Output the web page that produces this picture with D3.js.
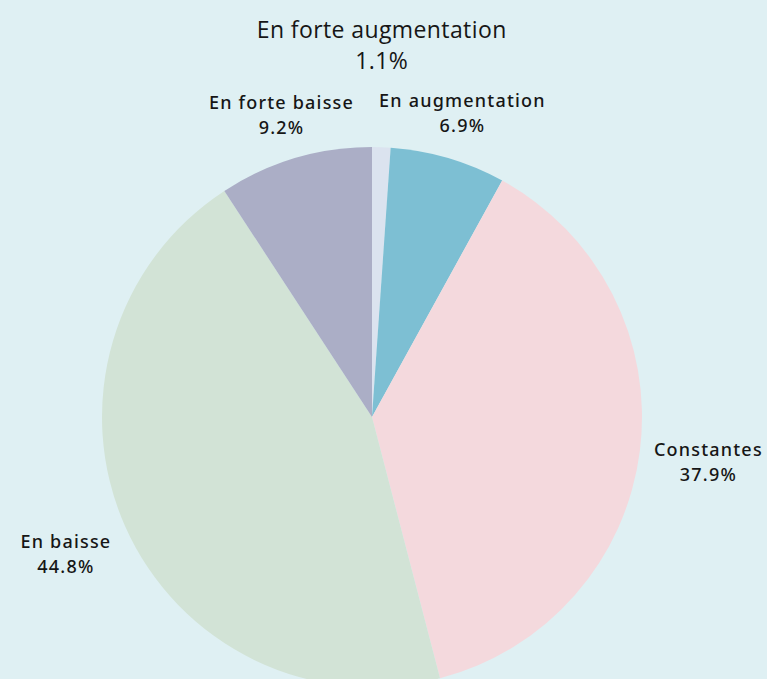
<!DOCTYPE html>
<html><head><meta charset="utf-8">
<script src="https://cdn.jsdelivr.net/npm/d3@7"></script>
<style>
html,body{margin:0;padding:0;background:#dff0f3;}
svg{display:block;}
</style></head>
<body>
<svg id="chart" width="767" height="679"></svg>
<script>
const categories = ["En forte augmentation", "En augmentation", "Constantes", "En baisse", "En forte baisse"];
const values = [1.1, 6.9, 37.9, 44.8, 9.2];
const labels = ["1.1%", "6.9%", "37.9%", "44.8%", "9.2%"];
const colors = ["#dbe3ef", "#7dbfd3", "#f4d9dd", "#d2e3d6", "#abaec6"];

const W = 767, H = 679;
const cx = 372, cy = 417, R = 270, RL = 338;
const svg = d3.select("#chart");
svg.append("rect").attr("width", W).attr("height", H).attr("fill", "#dff0f3");

const data = categories.map((c, i) => ({cat: c, value: values[i], label: labels[i], color: colors[i]}));
const pie = d3.pie().value(d => d.value).sort(null);
const arcs = pie(data);
const arc = d3.arc().innerRadius(0).outerRadius(R);
const labelArc = d3.arc().innerRadius(RL).outerRadius(RL);

const g = svg.append("g").attr("transform", `translate(${cx},${cy})`);
g.selectAll("path").data(arcs).enter().append("path")
  .attr("d", arc).attr("fill", d => d.data.color);

// label nudges to avoid overlap near the top
const nudge = [[-2, -34], [-5, 20], [1, 3], [3, 0], [6, 22]];
const lab = g.selectAll("g.lab").data(arcs).enter().append("g").attr("class", "lab")
  .attr("transform", (d, i) => {
    const [x, y] = labelArc.centroid(d);
    return `translate(${x + nudge[i][0]},${y + nudge[i][1]})`;
  });
lab.each(function(d, i) {
  const big = i === 0;
  const fs = big ? 23 : 18;
  const lh = big ? 31 : 25;
  const t = d3.select(this).append("text")
    .attr("text-anchor", "middle")
    .attr("fill", "#161616")
    .style("font-family", big ? "'Open Sans', sans-serif" : "'Noto Sans', sans-serif")
    .style("font-weight", big ? 400 : 500)
    .style("letter-spacing", big ? "0.4px" : "1.2px")
    .style("font-size", fs + "px");
  t.append("tspan").attr("x", 0).attr("y", -lh / 2 + fs * 0.37).text(d.data.cat);
  t.append("tspan").attr("x", 0).attr("y", lh / 2 + fs * 0.37).text(d.data.label);
});
</script>
</body></html>
